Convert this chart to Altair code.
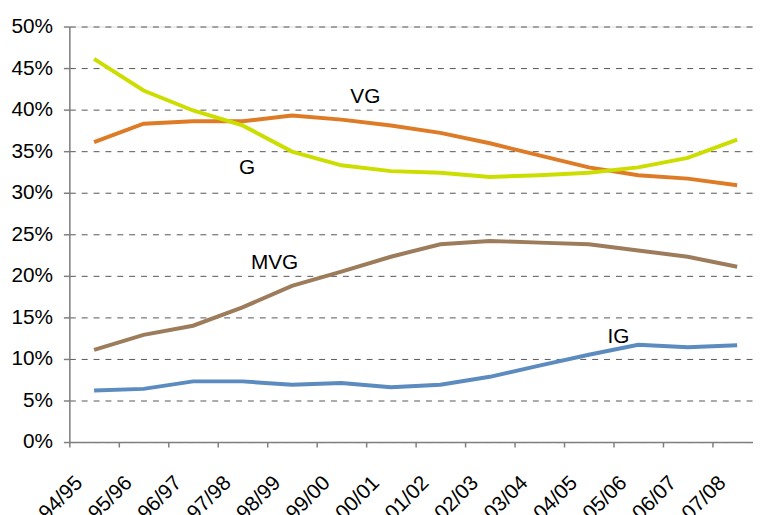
import altair as alt
import pandas as pd

periods = ['94/95', '95/96', '96/97', '97/98', '98/99', '99/00', '00/01',
           '01/02', '02/03', '03/04', '04/05', '05/06', '06/07', '07/08']
vg = [36.1, 38.3, 38.6, 38.6, 39.3, 38.8, 38.1, 37.2, 35.95, 34.5, 33.05, 32.1, 31.7, 30.9]
g = [46.1, 42.3, 39.9, 38.1, 34.95, 33.3, 32.6, 32.4, 31.9, 32.1, 32.4, 33.05, 34.2, 36.4]
mvg = [11.1, 12.9, 14.0, 16.2, 18.8, 20.5, 22.3, 23.8, 24.2, 24.0, 23.8, 23.05, 22.3, 21.1]
ig = [6.2, 6.4, 7.3, 7.3, 6.9, 7.1, 6.6, 6.9, 7.85, 9.2, 10.5, 11.7, 11.4, 11.65]

series_names = ['VG', 'G', 'MVG', 'IG']
series_colors = ['#DE7B27', '#CCDD00', '#9C7C5B', '#5B8BBF']

# annotation labels: text, position along category axis, value
ann_text = ['VG', 'G', 'MVG', 'IG']
ann_pos = [5.68, 3.43, 3.67, 10.88]
ann_val = [40.8, 32.2, 20.8, 11.9]

rows = []
for name, vals in zip(series_names, [vg, g, mvg, ig]):
    for i, (p, v) in enumerate(zip(periods, vals)):
        rows.append({'series': name, 'period': p, 'pos': i + 0.5, 'value': v})
df = pd.DataFrame(rows)
ann = pd.DataFrame({'text': ann_text, 'pos': ann_pos, 'value': ann_val})

FONT = 'Liberation Sans'
label_arr = '[' + ','.join("'" + p + "'" for p in periods) + ']'

xscale = alt.Scale(domain=[0, 13.82], nice=False, zero=False)
yscale = alt.Scale(domain=[0, 50], nice=False)

x_axis = alt.Axis(
    values=list(range(len(periods))),
    labelExpr=label_arr + '[datum.value]',
    title=None, grid=False,
    labelAngle=-45, labelAlign='right', labelBaseline='top',
    labelOffset=2, labelPadding=25,
    labelFont=FONT, labelFontSize=21, labelColor='black',
    labelOverlap=False, labelFlush=False, labelBound=False,
    tickSize=5, tickColor='#7f7f7f', tickWidth=1.5,
    domainColor='#7f7f7f', domainWidth=1.5,
)
y_axis = alt.Axis(
    values=list(range(0, 55, 5)),
    labelExpr="datum.value + '%'",
    title=None, grid=True, gridDash=[6, 6], gridColor='#555555', gridWidth=1,
    labelFont=FONT, labelFontSize=21, labelColor='black', labelPadding=11,
    labelOverlap=False, labelFlush=False, labelBound=False,
    tickSize=6, tickColor='#7f7f7f', tickWidth=1.5,
    domainColor='#7f7f7f', domainWidth=1.5,
)

lines = alt.Chart(df).mark_line(strokeWidth=4).encode(
    x=alt.X('pos:Q', scale=xscale, axis=x_axis),
    y=alt.Y('value:Q', scale=yscale, axis=y_axis),
    color=alt.Color('series:N', scale=alt.Scale(domain=series_names, range=series_colors), legend=None),
    detail='series:N',
)

labels = alt.Chart(ann).mark_text(
    align='left', baseline='alphabetic', font=FONT, fontSize=21, color='black'
).encode(
    x=alt.X('pos:Q', scale=xscale),
    y=alt.Y('value:Q', scale=yscale),
    text='text:N',
)

chart = alt.layer(lines, labels).properties(
    width=691, height=420,
    autosize=alt.AutoSizeParams(type='none'),
    padding={'left': 62, 'top': 16, 'right': 0, 'bottom': 71},
).configure_view(stroke=None).configure(background='white')

chart.save('out.html', embed_options={'renderer': 'svg', 'actions': False})
